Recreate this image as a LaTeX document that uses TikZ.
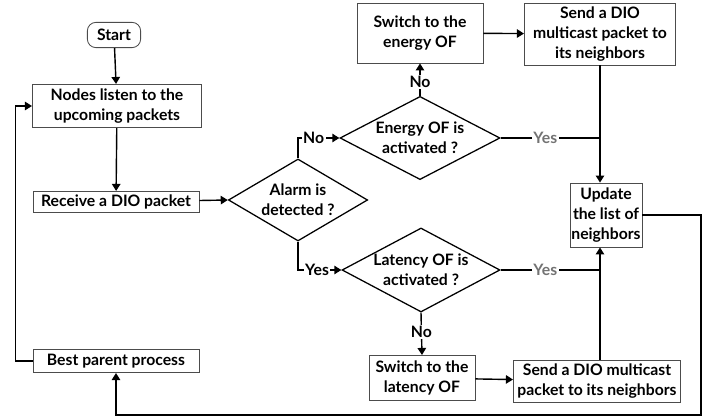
\documentclass[tikz,border=0pt]{standalone}
\usepackage{fontspec}
\setmainfont{Lato}
\usetikzlibrary{shapes.geometric, arrows.meta}
\tikzset{box/.style = {draw=black!70,line width=0.6pt,align=center,inner sep=1pt}}
\tikzset{dec/.style = {diamond,draw,line width=0.9pt,aspect=1.9,align=center,inner sep=0pt}}
\tikzset{flow/.style = {-{Triangle[length=5pt,width=6pt]},line width=1pt}}
\tikzset{lbl/.style = {fill=white,inner sep=1pt}}

\begin{document}
\begin{tikzpicture}[x=0.025cm,y=-0.025cm,font=\bfseries\fontsize{11.2}{14}\selectfont]
    \useasboundingbox (0,0) rectangle (710,418);
    % left column
    \node[box,rounded corners=6pt,minimum width=1.33cm,minimum height=0.63cm] (start) at (114,35) {Start};
    \node[box,minimum width=4.23cm,minimum height=1.08cm] (listen) at (117,106) {Nodes listen to the\\upcoming packets};
    \node[box,minimum width=4.15cm,minimum height=0.53cm] (recv) at (116,202) {Receive a DIO packet};
    \node[box,minimum width=4.15cm,minimum height=0.58cm] (best) at (116,361) {Best parent process};
    % decisions
    \node[dec,minimum width=3.48cm,minimum height=2.05cm] (alarm) at (298,200) {Alarm is\\detected ?};
    \node[dec,minimum width=4cm,minimum height=2.08cm] (energy) at (420,138) {Energy OF is\\activated ?};
    \node[dec,minimum width=3.95cm,minimum height=2.1cm] (lat) at (421,270) {Latency OF is\\activated ?};
    % right part
    \node[box,minimum width=3.15cm,minimum height=1.5cm] (swE) at (420,33) {Switch to the\\energy OF};
    \node[box,minimum width=3.78cm,minimum height=1.55cm] (sendT) at (600,34) {Send a DIO\\multicast packet to\\its neighbors};
    \node[box,minimum width=1.8cm,minimum height=1.6cm] (upd) at (606,215) {Update\\the list of\\neighbors};
    \node[box,minimum width=2.65cm,minimum height=1.13cm] (swL) at (422,378) {Switch to the\\latency OF};
    \node[box,minimum width=4.18cm,minimum height=1.05cm] (sendB) at (597,381) {Send a DIO multicast\\packet to its neighbors};
    \coordinate (c1) at (701,415);

    \draw[flow] (start) -- (listen);
    \draw[flow] (listen) -- (recv);
    \draw[flow] (recv) -- (alarm.west);
    \draw[flow] (alarm.north) |- (energy.west) node[lbl,pos=0.69] (no1) {No};
    \draw[flow] (alarm.south) |- (lat.west) node[lbl,pos=0.72] (yes1) {Yes};
    \draw[flow] (energy.north) -- (swE.south) node[lbl,pos=0.42] (no2) {No};
    \draw[flow] (lat.south) -- (swL.north) node[lbl,pos=0.45] (no3) {No};
    \draw[flow] (swE) -- (sendT);
    \draw[flow] (swL) -- (sendB);
    \draw[flow] (sendT.south) -- (sendT.south |- upd.north);
    \draw[flow] (sendB.north -| sendT.south) -- (sendT.south |- upd.south);
    \draw[line width=1pt] (energy.east) -- (energy.east -| sendT.south) node[lbl,text=black!55,pos=0.45] (yes2) {Yes};
    \draw[line width=1pt] (lat.east) -- (lat.east -| sendT.south) node[lbl,text=black!55,pos=0.45] (yes3) {Yes};
    \draw[flow] (upd.east) -| (c1) -| (best.south);
    \draw[flow] (best.west) -- ++(-17,0) |- (listen.west);
\end{tikzpicture}
\end{document}
